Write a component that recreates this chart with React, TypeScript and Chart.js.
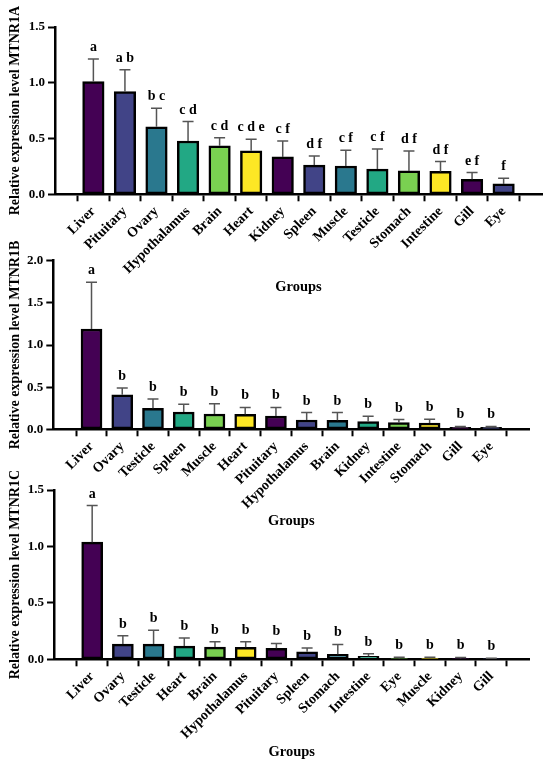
import React, { useEffect, useRef } from 'react';
import { Chart, registerables } from 'chart.js';

Chart.register(...registerables);

const SERIF = '"Liberation Serif", "Times New Roman", serif';
const PALETTE = ['#440154', '#414487', '#2a788e', '#22a884', '#7ad151', '#fde725'];

// MTNR1A
const tissuesA = ['Liver', 'Pituitary', 'Ovary', 'Hypothalamus', 'Brain', 'Heart', 'Kidney', 'Spleen', 'Muscle', 'Testicle', 'Stomach', 'Intestine', 'Gill', 'Eye'];
const meansA = [1.01, 0.92, 0.605, 0.478, 0.435, 0.39, 0.335, 0.262, 0.254, 0.226, 0.21, 0.205, 0.135, 0.093];
const errsA = [0.204, 0.196, 0.167, 0.174, 0.073, 0.104, 0.143, 0.081, 0.14, 0.18, 0.178, 0.088, 0.06, 0.05];
const lettersA = ['a', 'a b', 'b c', 'c d', 'c d', 'c d e', 'c f', 'd f', 'c f', 'c f', 'd f', 'd f', 'e f', 'f'];

// MTNR1B
const tissuesB = ['Liver', 'Ovary', 'Testicle', 'Spleen', 'Muscle', 'Heart', 'Pituitary', 'Hypothalamus', 'Brain', 'Kidney', 'Intestine', 'Stomach', 'Gill', 'Eye'];
const meansB = [1.19, 0.41, 0.249, 0.205, 0.182, 0.178, 0.158, 0.11, 0.107, 0.091, 0.079, 0.075, 0.022, 0.022];
const errsB = [0.554, 0.08, 0.111, 0.091, 0.122, 0.082, 0.102, 0.088, 0.091, 0.063, 0.036, 0.044, 0.012, 0.012];
const lettersB = ['a', 'b', 'b', 'b', 'b', 'b', 'b', 'b', 'b', 'b', 'b', 'b', 'b', 'b'];

// MTNR1C
const tissuesC = ['Liver', 'Ovary', 'Testicle', 'Heart', 'Brain', 'Hypothalamus', 'Pituitary', 'Spleen', 'Stomach', 'Intestine', 'Eye', 'Muscle', 'Kidney', 'Gill'];
const meansC = [1.038, 0.135, 0.135, 0.117, 0.108, 0.106, 0.097, 0.067, 0.044, 0.026, 0.006, 0.009, 0.006, 0.004];
const errsC = [0.324, 0.073, 0.123, 0.071, 0.047, 0.049, 0.044, 0.033, 0.088, 0.024, 0.012, 0.009, 0.01, 0.005];
const lettersC = ['a', 'b', 'b', 'b', 'b', 'b', 'b', 'b', 'b', 'b', 'b', 'b', 'b', 'b'];

type Area = { left: number; right: number; top: number; bottom: number };

interface PanelProps {
  gene: string;
  labels: string[];
  means: number[];
  errs: number[];
  letters: string[];
  yMax: number;
  canvasTop: number;
  canvasHeight: number;
  area: Area; // page coordinates of the plot area
  xPad: number;
  barWidth: number;
  groupsY: number;
}

const Panel: React.FC<PanelProps> = ({
  gene, labels, means, errs, letters, yMax, canvasTop, canvasHeight, area, xPad, barWidth, groupsY,
}) => {
  const canvasRef = useRef<HTMLCanvasElement>(null);

  useEffect(() => {
    if (!canvasRef.current) return;

    // error bars (upper only) and significance letters
    const annotate = {
      id: 'annotate',
      afterDatasetsDraw(chart: any) {
        const { ctx } = chart;
        const yScale = chart.scales.y;
        const meta = chart.getDatasetMeta(0);
        ctx.save();
        meta.data.forEach((bar: any, i: number) => {
          const topPx = yScale.getPixelForValue(means[i] + errs[i]);
          ctx.strokeStyle = '#555555';
          ctx.lineWidth = 1.5;
          ctx.beginPath();
          ctx.moveTo(bar.x, bar.y);
          ctx.lineTo(bar.x, topPx);
          ctx.moveTo(bar.x - 5.5, topPx);
          ctx.lineTo(bar.x + 5.5, topPx);
          ctx.stroke();

          ctx.fillStyle = '#000';
          ctx.font = `bold 14px ${SERIF}`;
          ctx.textAlign = 'center';
          ctx.textBaseline = 'alphabetic';
          ctx.fillText(letters[i], bar.x, topPx - 8);
        });
        ctx.restore();
      },
    };

    // y-axis title, drawn by hand so it is not squeezed to the plot height
    const yTitle = {
      id: 'yTitle',
      afterDraw(chart: any) {
        const { ctx, chartArea } = chart;
        ctx.save();
        ctx.translate(15.5, (chartArea.top + chartArea.bottom) / 2);
        ctx.rotate(-Math.PI / 2);
        ctx.fillStyle = '#000';
        ctx.font = `bold 14px ${SERIF}`;
        ctx.textAlign = 'center';
        ctx.textBaseline = 'middle';
        ctx.fillText(`Relative expression level ${gene}`, 0, 0);
        ctx.restore();
      },
    };

    const canvasBottom = canvasTop + canvasHeight;

    const chart = new Chart(canvasRef.current, {
      type: 'bar',
      data: {
        datasets: [{
          data: means.map((v, i) => ({ x: i, y: v })),
          backgroundColor: labels.map((_, i) => PALETTE[i % PALETTE.length]),
          borderColor: '#000',
          borderWidth: 2.5,
          borderSkipped: false,
          barThickness: barWidth,
        }],
      },
      options: {
        animation: false,
        responsive: true,
        maintainAspectRatio: false,
        layout: {
          padding: { top: area.top - canvasTop, right: 550 - area.right, left: 0, bottom: 0 },
        },
        plugins: {
          legend: { display: false },
          tooltip: { enabled: false },
        },
        scales: {
          x: {
            type: 'linear',
            min: -xPad,
            max: labels.length - 1 + xPad,
            afterBuildTicks: (s: any) => {
              s.ticks = labels.map((_, i) => ({ value: i }));
            },
            afterFit: (s: any) => {
              s.height = canvasBottom - area.bottom;
            },
            grid: { drawOnChartArea: false, drawTicks: true, tickLength: 7, tickWidth: 2, tickColor: '#000' },
            border: { color: '#000', width: 2.5 },
            ticks: {
              autoSkip: false,
              minRotation: 45,
              maxRotation: 45,
              padding: 2,
              color: '#000',
              font: { family: SERIF, size: 14, weight: 'bold' },
              callback: (v: any) => labels[v],
            },
            title: {
              display: true,
              text: 'Groups',
              color: '#000',
              font: { family: SERIF, size: 14.5, weight: 'bold' },
              padding: { top: 0, bottom: canvasBottom - groupsY - 8.7 },
            },
          },
          y: {
            min: 0,
            max: yMax,
            afterFit: (s: any) => {
              s.width = area.left;
            },
            grid: { drawOnChartArea: false, drawTicks: true, tickLength: 7, tickWidth: 2, tickColor: '#000' },
            border: { color: '#000', width: 2.5 },
            ticks: {
              stepSize: 0.5,
              padding: 3,
              color: '#000',
              font: { family: SERIF, size: 13, weight: 'bold' },
              callback: (v: any) => Number(v).toFixed(1),
            },
          },
        },
      },
      plugins: [annotate, yTitle],
    });

    return () => {
      chart.destroy();
    };
  }, [gene, labels, means, errs, letters, yMax, canvasTop, canvasHeight, area, xPad, barWidth, groupsY]);

  return (
    <div style={{ position: 'absolute', left: 0, top: canvasTop, width: 550, height: canvasHeight }}>
      <canvas ref={canvasRef}></canvas>
    </div>
  );
};

const areaA: Area = { left: 55, right: 542, top: 27, bottom: 194.3 };
const areaB: Area = { left: 53.3, right: 529.3, top: 260.7, bottom: 429.3 };
const areaC: Area = { left: 54, right: 529.5, top: 490, bottom: 659.3 };

export default function App() {
  return (
    <div style={{ position: 'absolute', left: 0, top: 0, width: 550, height: 766, background: '#fff', overflow: 'hidden' }}>
      <Panel gene="MTNR1A" labels={tissuesA} means={meansA} errs={errsA} letters={lettersA}
        yMax={1.5} canvasTop={0} canvasHeight={300} area={areaA} xPad={0.665} barWidth={21.5} groupsY={287} />
      <Panel gene="MTNR1B" labels={tissuesB} means={meansB} errs={errsB} letters={lettersB}
        yMax={2.0} canvasTop={232} canvasHeight={300} area={areaB} xPad={0.69} barWidth={21} groupsY={521.7} />
      <Panel gene="MTNR1C" labels={tissuesC} means={meansC} errs={errsC} letters={lettersC}
        yMax={1.5} canvasTop={466} canvasHeight={300} area={areaC} xPad={0.69} barWidth={21} groupsY={752.7} />
    </div>
  );
}
